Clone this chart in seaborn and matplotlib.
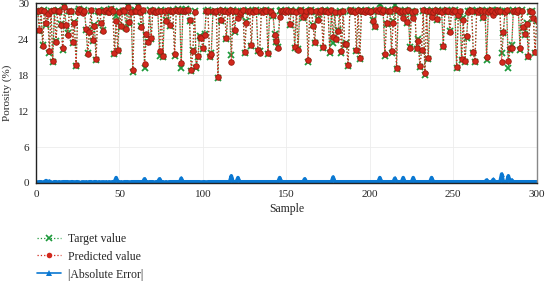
import numpy as np
import matplotlib
matplotlib.use("Agg")
import matplotlib.pyplot as plt
from matplotlib.lines import Line2D
import seaborn as sns

# Porosity per sample (samples 0..300)
target_value = [
    28.6, 28.8, 25.4, 28.7, 23.0, 28.9, 26.4, 28.5, 21.8, 28.8,
    20.3, 28.7, 23.8, 28.9, 28.6, 26.5, 22.3, 29.6, 26.2, 25.0,
    28.8, 28.5, 23.4, 26.9, 19.6, 28.7, 29.0, 28.8, 28.6, 28.9,
    25.6, 21.7, 25.5, 28.7, 23.8, 26.4, 20.6, 28.8, 28.6, 26.7,
    25.6, 28.9, 28.7, 28.5, 28.8, 29.0, 28.6, 21.6, 27.9, 22.0,
    28.7, 26.0, 28.8, 28.5, 25.9, 29.6, 26.8, 28.7, 18.6, 28.9,
    28.6, 29.6, 28.8, 26.3, 28.7, 19.2, 24.7, 23.6, 28.9, 24.1,
    28.7, 28.5, 28.8, 28.6, 21.3, 28.9, 21.1, 28.7, 27.2, 28.8,
    26.2, 28.6, 28.9, 21.3, 28.7, 29.0, 28.8, 19.3, 28.6, 28.9,
    29.1, 28.7, 27.0, 18.7, 22.3, 28.8, 19.3, 21.0, 24.6, 24.2,
    22.4, 24.9, 28.7, 28.9, 21.0, 21.8, 28.6, 28.8, 28.5, 17.5,
    28.7, 27.0, 28.9, 28.6, 24.0, 28.8, 28.7, 21.4, 28.9, 25.3,
    28.6, 28.5, 28.1, 28.8, 28.7, 21.7, 27.0, 28.9, 28.6, 22.9,
    28.8, 28.7, 28.9, 22.0, 22.0, 28.6, 28.8, 28.7, 28.9, 21.6,
    28.6, 28.8, 27.9, 24.9, 23.6, 22.8, 28.7, 28.9, 28.6, 28.8,
    28.7, 28.5, 26.4, 28.9, 28.6, 22.5, 28.8, 22.4, 28.7, 28.9,
    27.5, 28.8, 28.6, 20.3, 28.7, 28.9, 26.4, 23.4, 28.6, 27.4,
    28.8, 28.7, 22.5, 28.9, 28.6, 28.8, 21.8, 28.7, 23.4, 28.4,
    23.9, 25.6, 28.8, 21.8, 28.6, 23.0, 23.4, 19.6, 28.7, 28.9,
    28.6, 28.8, 22.1, 28.7, 20.7, 28.9, 28.6, 28.8, 28.7, 28.5,
    28.8, 28.9, 27.2, 26.1, 28.7, 28.6, 29.9, 28.8, 28.7, 21.3,
    26.5, 28.9, 28.6, 21.8, 27.0, 29.8, 19.1, 28.7, 28.8, 28.6,
    28.4, 28.9, 26.7, 28.7, 22.8, 28.8, 28.4, 28.6, 22.4, 24.0,
    19.4, 22.1, 28.7, 18.1, 28.9, 20.7, 28.6, 28.6, 28.8, 28.7,
    27.2, 28.9, 28.6, 28.8, 22.7, 28.7, 28.9, 28.6, 25.4, 28.8,
    28.7, 28.9, 19.2, 27.8, 28.6, 20.5, 27.5, 20.2, 24.3, 28.8,
    28.7, 28.9, 21.7, 20.2, 28.6, 28.8, 28.7, 28.9, 27.5, 28.6,
    20.6, 28.8, 28.7, 28.9, 28.6, 28.8, 28.7, 28.9, 28.6, 21.7,
    25.0, 28.8, 28.7, 19.2, 22.3, 23.1, 28.9, 28.6, 28.8, 28.7,
    22.3, 28.9, 25.9, 24.7, 26.7, 21.0, 28.6, 28.8, 27.4, 21.7,
    27.0,
]

predicted_value = [
    28.8, 28.7, 25.6, 28.9, 22.9, 28.7, 26.8, 28.3, 22.1, 28.7,
    20.4, 28.9, 23.6, 28.8, 28.8, 26.4, 22.5, 29.4, 26.4, 24.8,
    28.7, 28.7, 23.6, 26.8, 19.8, 28.5, 29.1, 28.9, 28.4, 28.8,
    25.8, 21.6, 25.3, 28.9, 23.9, 26.2, 20.8, 28.7, 28.8, 26.8,
    25.4, 28.8, 28.9, 28.6, 28.6, 29.1, 28.8, 21.8, 27.0, 22.2,
    28.6, 26.2, 28.9, 28.7, 25.7, 29.4, 26.9, 28.5, 18.8, 28.7,
    28.8, 29.4, 28.6, 26.1, 28.9, 19.9, 24.9, 23.5, 28.7, 24.3,
    28.9, 28.6, 28.6, 28.8, 22.0, 28.7, 21.3, 28.8, 27.0, 28.9,
    26.4, 28.8, 28.7, 21.5, 28.9, 28.8, 28.9, 20.1, 28.8, 28.7,
    28.9, 28.9, 27.2, 18.9, 22.1, 28.6, 19.5, 21.2, 24.4, 24.3,
    22.6, 24.7, 28.8, 28.7, 21.2, 21.6, 28.8, 28.6, 28.7, 17.7,
    28.9, 27.2, 28.7, 28.8, 24.2, 28.6, 28.9, 20.2, 28.7, 25.5,
    28.8, 27.6, 28.3, 28.6, 28.9, 21.9, 26.8, 28.7, 28.8, 23.1,
    28.6, 28.9, 28.7, 22.2, 21.8, 28.8, 28.6, 28.9, 28.7, 21.8,
    28.8, 28.6, 28.1, 24.7, 23.8, 22.6, 27.8, 28.7, 28.8, 28.6,
    28.9, 28.7, 26.6, 28.7, 28.8, 22.7, 28.6, 22.2, 28.9, 28.7,
    27.7, 28.1, 28.8, 20.5, 28.9, 28.7, 26.2, 23.6, 28.8, 27.2,
    28.6, 28.9, 22.7, 28.7, 28.8, 28.6, 22.0, 28.9, 24.4, 28.6,
    24.1, 25.4, 28.6, 22.0, 28.8, 23.2, 23.2, 19.8, 28.9, 28.7,
    28.8, 28.6, 22.3, 28.9, 20.9, 28.7, 28.8, 28.6, 28.9, 28.7,
    28.6, 28.7, 27.0, 26.3, 28.9, 28.8, 29.0, 28.6, 28.9, 21.5,
    26.7, 28.7, 28.8, 22.0, 26.8, 29.0, 19.3, 28.9, 28.6, 28.8,
    27.5, 28.7, 26.9, 28.9, 22.6, 28.6, 27.5, 28.8, 22.6, 23.8,
    19.6, 22.3, 28.9, 18.3, 28.7, 20.9, 28.8, 27.7, 28.6, 28.9,
    27.4, 28.7, 28.8, 28.6, 22.9, 28.9, 28.7, 28.8, 25.2, 28.6,
    28.9, 28.7, 19.4, 28.0, 28.8, 20.7, 27.3, 20.4, 24.5, 28.6,
    28.9, 28.7, 21.9, 20.4, 28.8, 28.6, 28.9, 28.7, 27.7, 28.8,
    21.1, 28.6, 28.9, 28.7, 28.0, 28.6, 28.9, 28.7, 28.8, 20.2,
    25.2, 28.6, 28.9, 20.4, 22.5, 22.6, 28.7, 28.8, 28.6, 28.9,
    22.5, 28.7, 26.1, 24.9, 26.5, 21.2, 28.8, 28.6, 27.6, 21.9,
    27.2,
]

sample = np.arange(len(target_value))
abs_error = np.abs(np.array(predicted_value) - np.array(target_value))

x_ticks = [0, 50, 100, 150, 200, 250, 300]
y_ticks = [0, 6, 12, 18, 24, 30]
series_labels = ["Target value", "Predicted value", "|Absolute Error|"]

GREEN = "#1e9a3c"
RED = "#d2281c"
BLUE = "#0a78d2"

sns.set_style("whitegrid")
plt.rcParams['font.family'] = ['Liberation Serif', 'DejaVu Serif']

fig = plt.figure(figsize=(5.46, 2.9), dpi=100)
ax = fig.add_axes([0.066, 0.369, 0.917, 0.619])

# Target, predicted and error series
sns.lineplot(x=sample, y=target_value, ax=ax, color=GREEN, linestyle=":",
             linewidth=0.9, marker="x", markersize=4.5, markeredgewidth=1.3,
             markeredgecolor=GREEN, legend=False)
sns.lineplot(x=sample, y=predicted_value, ax=ax, color=RED, linestyle=":",
             linewidth=0.9, marker="o", markersize=4, markeredgewidth=0.6,
             markeredgecolor="#9a1a10", legend=False)
sns.lineplot(x=sample, y=abs_error, ax=ax, color=BLUE, linestyle="-",
             linewidth=2.6, marker="^", markersize=3.5, markeredgewidth=0,
             legend=False)

ax.set_xlim(0, 300)
ax.set_ylim(0, 30)
ax.set_xticks(x_ticks)
ax.set_yticks(y_ticks)
ax.grid(True, color="#ececec", linewidth=0.6)
ax.tick_params(axis="both", labelsize=8, length=3, width=0.8, direction="out",
               color="#222222", pad=2)
for side in ["left", "top", "bottom"]:
    ax.spines[side].set_color("#222222")
    ax.spines[side].set_linewidth(1.0)
ax.spines["right"].set_color("#888888")
ax.spines["right"].set_linewidth(1.0)

ax.set_xlabel("Sample", fontsize=8.5, labelpad=3)
ax.set_ylabel("Porosity (%)", fontsize=8, labelpad=4)

# legend key: thin lines with markers, placed under the axes
handles = [
    Line2D([], [], color=GREEN, linestyle=":", linewidth=0.9, marker="x",
           markersize=4, markeredgewidth=1.2),
    Line2D([], [], color=RED, linestyle=":", linewidth=0.9, marker="o",
           markersize=4, markeredgewidth=0),
    Line2D([], [], color=BLUE, linestyle="-", linewidth=1.2, marker="^",
           markersize=4, markeredgewidth=0),
]
fig.legend(handles, series_labels, loc="upper left", bbox_to_anchor=(0.055, 0.222),
           frameon=False, fontsize=8.5, handlelength=2.0, handletextpad=0.6,
           labelspacing=0.5, borderpad=0.1)

fig.savefig("out.png", dpi=100)
